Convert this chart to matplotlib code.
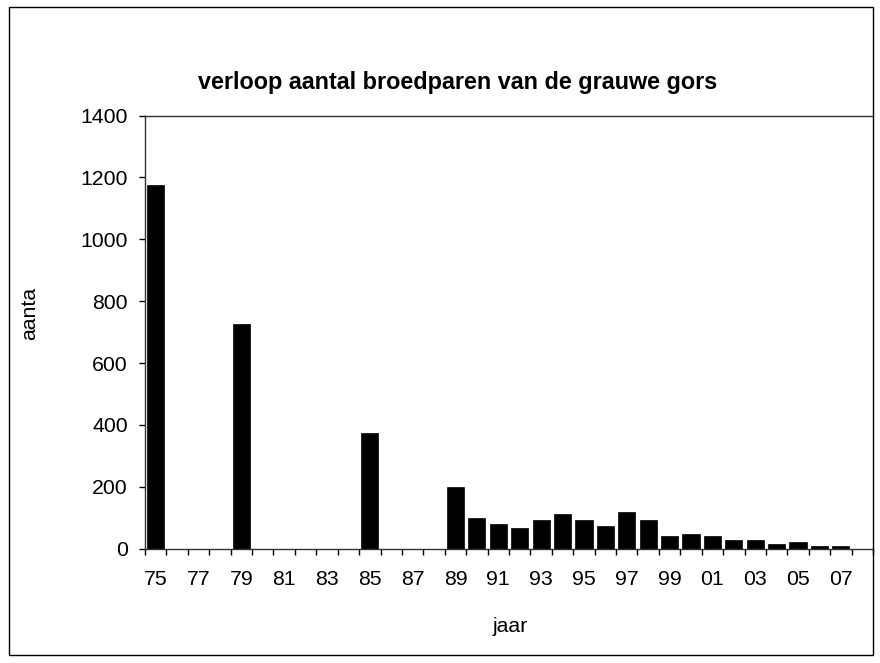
import matplotlib
matplotlib.use("Agg")
import matplotlib.pyplot as plt
from matplotlib.patches import Rectangle

plt.rcParams['font.family'] = ['Liberation Sans', 'DejaVu Sans']

years = ["75", "76", "77", "78", "79", "80", "81", "82", "83", "84", "85", "86",
         "87", "88", "89", "90", "91", "92", "93", "94", "95", "96", "97", "98",
         "99", "00", "01", "02", "03", "04", "05", "06", "07", "08"]
pairs = [1175, 0, 0, 0, 725, 0, 0, 0, 0, 0, 375, 0,
         0, 0, 200, 100, 80, 67, 92, 111, 92, 73, 118, 92,
         41, 47, 41, 28, 28, 15, 22, 9, 9, 0]
yticks = [0, 200, 400, 600, 800, 1000, 1200, 1400]

W, H = 880, 663
FS = 15.3
fig = plt.figure(figsize=(W / 100, H / 100), dpi=100)
fig.patch.set_facecolor('white')

# outer frame
fig.patches.append(Rectangle((9 / W, 1 - 655 / H), (873 - 9) / W, (655 - 7) / H,
                             transform=fig.transFigure, fill=False,
                             edgecolor='black', linewidth=1.0))

ax = fig.add_axes([145 / W, 1 - 548.7 / H, (873 - 145) / W, (548.7 - 115.5) / H])
x = list(range(len(years)))
ax.bar(x, pairs, width=0.8, color='black', edgecolor='black', linewidth=0.5)

ax.set_xlim(-0.5, len(years) - 0.5)
ax.set_ylim(0, 1400)

ax.set_yticks(yticks)
ax.set_yticklabels([str(v) for v in yticks])
ax.tick_params(axis='y', direction='out', length=4, width=1, pad=8.5,
               labelsize=FS, colors='black')

ax.set_xticks([i - 0.5 for i in range(len(years) + 1)])
ax.set_xticklabels([])
ax.tick_params(axis='x', which='major', direction='out', length=4, width=1)
ax.set_xticks(x[::2], minor=True)
ax.set_xticklabels(years[::2], minor=True)
ax.tick_params(axis='x', which='minor', length=0, pad=15.5, labelsize=FS)

for s in ['left', 'bottom', 'top']:
    ax.spines[s].set_color('#333333')
    ax.spines[s].set_linewidth(1.0)
ax.spines['right'].set_visible(False)

fig.text(458 / W, 1 - 82 / H, "verloop aantal broedparen van de grauwe gors",
         ha='center', va='center', fontsize=16.8, fontweight='bold')
fig.text(510 / W, 1 - 626 / H, "jaar", ha='center', va='center', fontsize=FS)
fig.text(30 / W, 1 - 313 / H, "aanta", ha='center', va='center', fontsize=FS,
         rotation=90)

fig.savefig("out.png", dpi=100)
